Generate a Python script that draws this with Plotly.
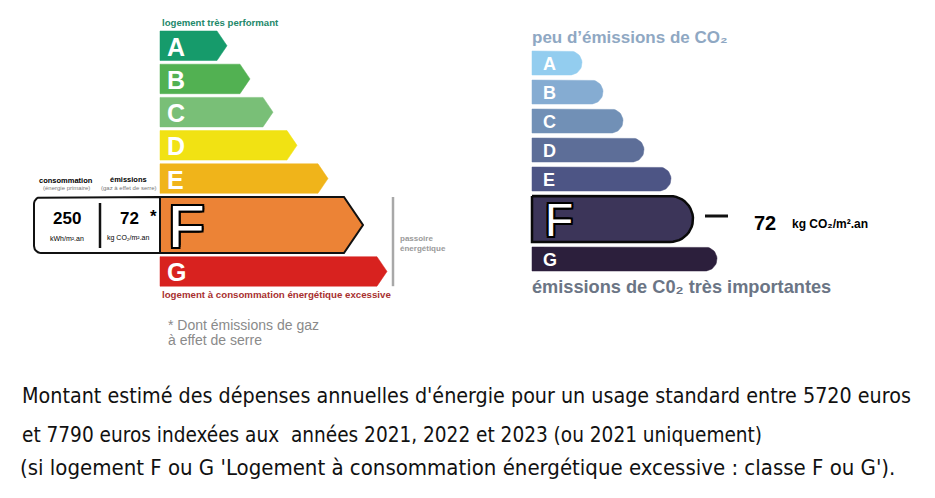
import numpy as np
import plotly.graph_objects as go

# ---------------- data ----------------
classes = ["A", "B", "C", "D", "E", "F", "G"]
energy_bar_len = [67, 90, 113, 137, 168, 203, 227]      # DPE energy label arrow lengths
ges_bar_len = [50, 71, 91, 112, 139, 161, 185]          # GES label bar lengths
energy_colors = ["#169b6b", "#52b152", "#79bf77", "#f1e213", "#f0b41a", "#ec8336", "#d8221f"]
ges_colors = ["#93cdef", "#85acd2", "#7190b6", "#5d6e98", "#4d5585", "#3c3559", "#2c1f3c"]
current_class = "F"
energy_value = 250
ges_value = 72
energy_unit = "kWh/m².an"
ges_unit = "kg CO₂/m².an"
footer_lines = [
    "Montant estimé des dépenses annuelles d'énergie pour un usage standard entre 5720 euros",
    "et 7790 euros indexées aux  années 2021, 2022 et 2023 (ou 2021 uniquement)",
    "(si logement F ou G 'Logement à consommation énergétique excessive : classe F ou G').",
]

W, H = 935, 498
PAD = 8  # page body margin
ARIAL = "Liberation Sans, Arial, sans-serif"

fig = go.Figure()
ann = []


def poly(xs, ys, fill, line_color=None, line_width=0):
    fig.add_trace(go.Scatter(
        x=list(xs) + [xs[0]], y=list(ys) + [ys[0]], mode="lines", fill="toself",
        fillcolor=fill,
        line=dict(color=line_color or fill, width=line_width if line_width else 0.5),
        hoverinfo="skip", showlegend=False))


def text(x, y, s, size, color="#000", bold=False, xanchor="left", family=ARIAL, shadow=None):
    f = dict(size=size, color=color, family=family, weight="bold" if bold else "normal")
    if shadow:
        f["shadow"] = shadow
    ann.append(dict(x=x, y=y, xref="x", yref="y", text=s, showarrow=False,
                    xanchor=xanchor, yanchor="middle", font=f))


OUTLINE = ("-2px -2px 0 #000, 2px -2px 0 #000, -2px 2px 0 #000, 2px 2px 0 #000, "
           "0 2px 0 #000, 0 -2px 0 #000, 2px 0 0 #000, -2px 0 0 #000")

# ---------------- left: energy label ----------------
x0 = 160
y = 31.0
for c, L, col in zip(classes, energy_bar_len, energy_colors):
    cur = c == current_class
    h = 56 if cur else 29.5
    top, bot, mid = y, y + h, y + h / 2
    t = 0.34 * h
    xe = x0 + L
    if cur:
        r = 7
        bx0 = 34
        xs = [x0, bx0 + r]
        ys = [top, top]
        for a in np.linspace(0, np.pi / 2, 8):
            xs.append(bx0 + r - r * np.sin(a)); ys.append(top + r - r * np.cos(a))
        for a in np.linspace(0, np.pi / 2, 8):
            xs.append(bx0 + r - r * np.cos(a)); ys.append(bot - r + r * np.sin(a))
        xs.append(x0); ys.append(bot)
        poly(xs, ys, "#ffffff", "#111111", 2)
        poly([x0, xe - t, xe, xe - t, x0], [top, top, mid, bot, bot], col, "#111111", 2)
        fig.add_trace(go.Scatter(x=[100, 100], y=[top + 6, bot - 5], mode="lines",
                                 line=dict(color="#111", width=2.5), hoverinfo="skip", showlegend=False))
        text(67, mid - 7, str(energy_value), 17, bold=True, xanchor="center")
        text(67, mid + 13, energy_unit, 7, xanchor="center")
        text(129, mid - 7, str(ges_value), 17, bold=True, xanchor="center")
        text(153, mid - 9, "*", 17, bold=True, xanchor="center")
        text(128, mid + 13, ges_unit, 7, xanchor="center")
        text(66, top - 17, "consommation", 7.5, bold=True, xanchor="center")
        text(66, top - 9, "(énergie primaire)", 6, color="#777", xanchor="center")
        text(128, top - 18, "émissions", 7.5, bold=True, xanchor="center")
        text(129, top - 9, "(gaz à effet de serre)", 6, color="#777", xanchor="center")
        text(166, mid + 1, c, 60, color="#ffffff", family=ARIAL, shadow=OUTLINE)
        f_top, f_bot = top, bot
    else:
        poly([x0, xe - t, xe, xe - t, x0], [top, top, mid, bot, bot], col)
        text(165, mid + 1, c, 25, color="#ffffff", bold=True)
    if c == classes[0]:
        first_top = top
    y = bot + 3.7
last_bot = y - 3.7

text(160, first_top - 9, "logement très performant", 9.6, color="#23886a", bold=True)
text(160, last_bot + 8, "logement à consommation énergétique excessive", 9.7, color="#a8302f", bold=True)
fig.add_trace(go.Scatter(x=[393, 393], y=[f_top, last_bot], mode="lines",
                         line=dict(color="#a8a8a8", width=2.5), hoverinfo="skip", showlegend=False))
text(398, 238, "passoire", 8, color="#9a9a9a", bold=True)
text(398, 248, "énergétique", 8, color="#9a9a9a", bold=True)
text(166, 325, "* Dont émissions de gaz", 14, color="#8a8a8a")
text(166, 340, "à effet de serre", 14, color="#8a8a8a")

# ---------------- right: GES label ----------------
x0 = 532
y = 51.0
for c, L, col in zip(classes, ges_bar_len, ges_colors):
    cur = c == current_class
    h = 46 if cur else 24
    top, bot, mid = y, y + h, y + h / 2
    r = h / 2
    xe = x0 + L
    xs = [x0, xe - r]
    ys = [top, top]
    for a in np.linspace(-np.pi / 2, np.pi / 2, 24):
        xs.append(xe - r + r * np.cos(a)); ys.append(mid + r * np.sin(a))
    xs.append(x0); ys.append(bot)
    if cur:
        poly(xs, ys, col, "#0a0a0a", 2.5)
        text(543, mid + 1, c, 46, color="#ffffff", shadow=OUTLINE)
        fig.add_trace(go.Scatter(x=[xe + 12, xe + 35], y=[mid - 3, mid - 3], mode="lines",
                                 line=dict(color="#111", width=3), hoverinfo="skip", showlegend=False))
        text(752, mid + 4, str(ges_value), 20, bold=True)
        text(790, mid + 5, ges_unit, 12, bold=True)
    else:
        poly(xs, ys, col)
        text(541, mid + 1, c, 18, color="#ffffff", bold=True)
    if c == classes[0]:
        g_first_top = top
    y = bot + 5
g_last_bot = y - 5

text(530, g_first_top - 14, "peu d’émissions de CO₂", 17, color="#8fa8c3", bold=True)
text(530, g_last_bot + 16, "émissions de C0₂ très importantes", 18.2, color="#6b7585", bold=True)

# ---------------- footer ----------------
FOOT = "DejaVu Sans Condensed, sans-serif"
for yy, xx, sz, s in zip([395, 435, 467], [20, 20, 18], [21.3, 20.6, 22], footer_lines):
    text(xx, yy, s, sz, color="#111", family=FOOT)

fig.update_layout(
    width=W - 2 * PAD, height=H - 2 * PAD, autosize=False,
    margin=dict(l=0, r=0, t=0, b=0),
    paper_bgcolor="#ffffff", plot_bgcolor="#ffffff",
    xaxis=dict(range=[PAD, W - PAD], visible=False, fixedrange=True),
    yaxis=dict(range=[H - PAD, PAD], visible=False, fixedrange=True),
    annotations=ann,
    showlegend=False,
)
fig.write_html("out.html")
